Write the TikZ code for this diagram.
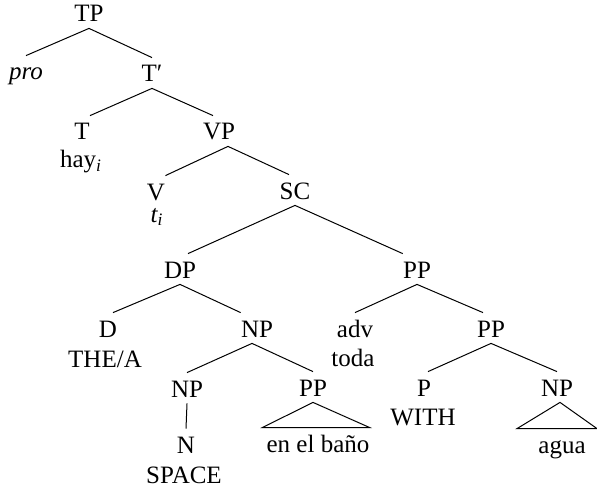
\documentclass[tikz,border=0pt]{standalone}
\usepackage{fontspec}
\setmainfont{Liberation Serif}
\usetikzlibrary{calc}

\begin{document}
\begin{tikzpicture}[x=0.5pt, y=-0.5pt,
			catnode/.style={inner sep=0pt, anchor=base, text height=12pt, text depth=3pt, font=\fontsize{12.5}{15}\selectfont},
			wordnode/.style={inner sep=0pt, anchor=base, text height=12pt, text depth=3pt, font=\fontsize{12.5}{15}\selectfont},
			branch/.style={draw=black, line width=0.5pt},
			]
			\useasboundingbox (0,0) rectangle (597,491);
			%Nodes
			\node[catnode] (TP) at (89,22) {TP};
			\node[catnode] (Pro) at (26,80) {\itshape pro};
			\node[catnode] (Tbar) at (152,82) {T′};
			\node[catnode] (T) at (82,140) {T};
			\node[wordnode] (Hay) at (81,168) {hay\textsubscript{\itshape i}};
			\node[catnode] (VP) at (219,140) {VP};
			\node[catnode] (V) at (156,200) {V};
			\node[wordnode] (Trace) at (157,222) {\itshape t\textsubscript{i}};
			\node[catnode] (SC) at (295,199) {SC};
			
			\node[catnode] (DP) at (180,278) {DP};
			\node[catnode] (PPtop) at (417,278) {PP};
			\node[catnode] (D) at (108,337) {D};
			\node[wordnode] (TheA) at (105,367) {THE/A};
			\node[catnode] (NPtop) at (257,337) {NP};
			\node[catnode] (Adv) at (355,337) {adv};
			\node[wordnode] (Toda) at (353,366) {toda};
			\node[catnode] (PPmid) at (491,337) {PP};
			
			\node[catnode] (NPlow) at (187,397) {NP};
			\node[catnode] (PPloc) at (313,396) {PP};
			\node[catnode] (P) at (424,396) {P};
			\node[wordnode] (With) at (423,425) {WITH};
			\node[catnode] (NPobj) at (557,396) {NP};
			\node[catnode] (N) at (186,453) {N};
			\node[wordnode] (Space) at (184,483) {SPACE};
			\node[wordnode] (EnElBano) at (318,452) {en el baño};
			\node[wordnode] (Agua) at (562,453) {agua};
			
			%Lines
			\draw[branch] (TP.south) -- (Pro.north);
			\draw[branch] (TP.south) -- (Tbar.north);
			\draw[branch] (Tbar.south) -- (T.north east);
			\draw[branch] (Tbar.south) -- ([xshift=-3pt]VP.north);
			\draw[branch] ([xshift=4.5pt]VP.south) -- (V.north east);
			\draw[branch] ([xshift=4.5pt]VP.south) -- ([xshift=-3pt]SC.north);
			
			\draw[branch] (SC.south) -- ([xshift=4pt]DP.north);
			\draw[branch] (SC.south) -- (PPtop.north west);
			\draw[branch] (DP.south) -- ([xshift=2.5pt]D.north);
			\draw[branch] (DP.south) -- (NPtop.north west);
			\draw[branch] (PPtop.south) -- (Adv.north);
			\draw[branch] (PPtop.south) -- ([xshift=-4pt]PPmid.north);
			
			\draw[branch] ([xshift=-2.5pt]NPtop.south) -- (NPlow.north);
			\draw[branch] ([xshift=-2.5pt]NPtop.south) -- (PPloc.north);
			\draw[branch] (PPmid.south) -- ([xshift=2pt]P.north);
			\draw[branch] (PPmid.south) -- (NPobj.north);
			\draw[branch] (NPlow.south) -- (N.north);
			
			%Triangles
			\draw[branch] (PPloc.south) -- ([xshift=-2pt]EnElBano.north west) -- (EnElBano.north east) -- cycle;
			\draw[branch] ([xshift=1.5pt]NPobj.south) -- ([xshift=-22.5pt]Agua.north) -- ([xshift=17.5pt]Agua.north) -- cycle;
		\end{tikzpicture}
\end{document}
